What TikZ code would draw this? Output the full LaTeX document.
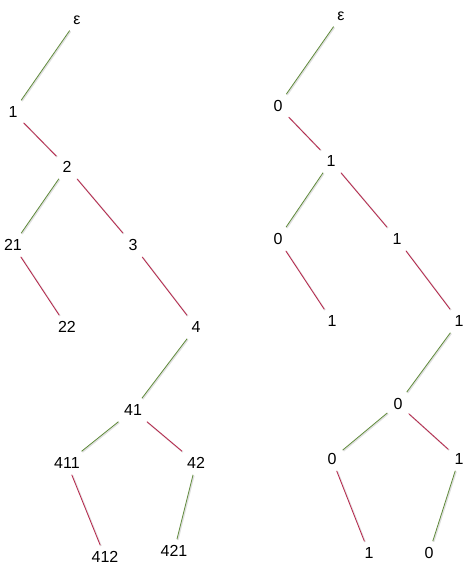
\documentclass[tikz,border=0pt]{standalone}
\usepackage{fontspec}
\setmainfont{Liberation Sans}
\definecolor{edgegreen}{HTML}{5F8A3A}
\definecolor{edgered}{HTML}{B8244A}

\begin{document}
\begin{tikzpicture}[x=1pt, y=-1pt, every node/.style={font=\fontsize{16}{19}\selectfont, inner sep=6pt},
    shadowed/.style={preaction={draw=black!12, line width=1.6pt, transform canvas={shift={(0.8pt,-0.8pt)}}}},
    gedge/.style={edgegreen, line width=0.8pt, shadowed},
    redge/.style={edgered, line width=0.8pt, shadowed}]
    \useasboundingbox (0,0) rectangle (471,572);

    % Left tree
    \node (Le) at (77,20) {ε};
    \node (L1) at (13,112) {1};
    \node (L2) at (67,167) {2};
    \node (L21) at (13,245) {21};
    \node (L3) at (133,245) {3};
    \node (L22) at (67,327) {22};
    \node (L4) at (196,327) {4};
    \node (L41) at (133,410) {41};
    \node (L411) at (67,463) {411};
    \node (L42) at (196,463) {42};
    \node (L412) at (105,557) {412};
    \node (L421) at (174,551) {421};

    % Right tree
    \node (Re) at (341,16) {ε};
    \node (R1) at (278,106) {0};
    \node (R2) at (331,161) {1};
    \node (R21) at (278,239) {0};
    \node (R3) at (397,239) {1};
    \node (R22) at (332,321) {1};
    \node (R4) at (459,321) {1};
    \node (R41) at (398,404) {0};
    \node (R411) at (332,459) {0};
    \node (R42) at (459,459) {1};
    \node (R412) at (369,553) {1};
    \node (R421) at (429,553) {0};

    % Edges, left tree
    \draw[gedge] (Le) -- (L1);
    \draw[redge] (L1) -- (L2);
    \draw[gedge] (L2) -- (L21);
    \draw[redge] (L2) -- (L3);
    \draw[redge] (L21) -- (L22);
    \draw[redge] (L3) -- (L4);
    \draw[gedge] (L4) -- (L41);
    \draw[gedge] (L41) -- (L411);
    \draw[redge] (L41) -- (L42);
    \draw[redge] (L411) -- (L412);
    \draw[gedge] (L42) -- (L421);

    % Edges, right tree
    \draw[gedge] (Re) -- (R1);
    \draw[redge] (R1) -- (R2);
    \draw[gedge] (R2) -- (R21);
    \draw[redge] (R2) -- (R3);
    \draw[redge] (R21) -- (R22);
    \draw[redge] (R3) -- (R4);
    \draw[gedge] (R4) -- (R41);
    \draw[gedge] (R41) -- (R411);
    \draw[redge] (R41) -- (R42);
    \draw[redge] (R411) -- (R412);
    \draw[gedge] (R42) -- (R421);
\end{tikzpicture}
\end{document}
